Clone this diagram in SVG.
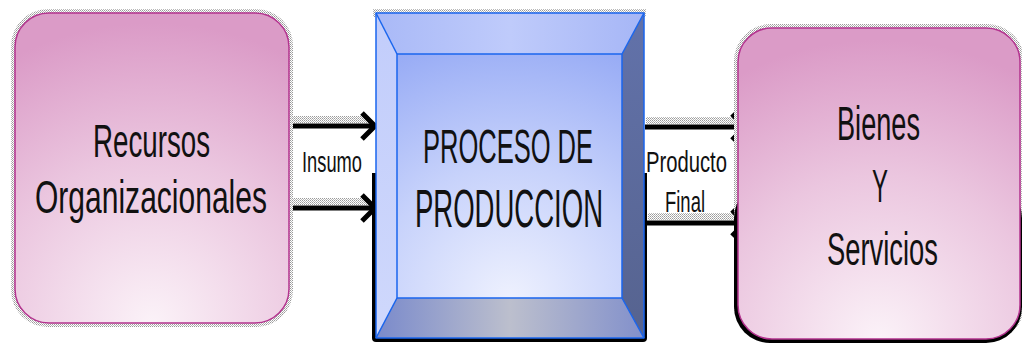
<svg xmlns="http://www.w3.org/2000/svg" width="1022" height="343" viewBox="0 0 1022 343">
<defs>
<style>
.lbl{font-family:"Liberation Sans",Arial,sans-serif;fill:#111;}
.conn{stroke:#000;stroke-width:5;fill:none;}
.head{stroke:#000;stroke-width:5;fill:none;stroke-linejoin:miter;}
.pink{stroke:#b4338f;stroke-width:1.5;}
.bev{stroke:#1a66ee;stroke-width:1.5;stroke-linejoin:round;}
</style>
<pattern id="dots" width="2" height="2" patternUnits="userSpaceOnUse">
<rect width="2" height="2" fill="#ffffff"/>
<rect width="1" height="1" fill="#9a9a9a"/>
<rect x="1" y="1" width="1" height="1" fill="#b8b8b8"/>
</pattern>
<radialGradient id="pinkL" gradientUnits="userSpaceOnUse" cx="152" cy="323" r="300" fx="152" fy="323">
<stop offset="0" stop-color="#fbf2f8"/>
<stop offset="0.55" stop-color="#ebc6df"/>
<stop offset="1" stop-color="#db9bc7"/>
</radialGradient>
<radialGradient id="pinkR" gradientUnits="userSpaceOnUse" cx="879" cy="340" r="300" fx="879" fy="340">
<stop offset="0" stop-color="#fbf2f8"/>
<stop offset="0.55" stop-color="#ebc6df"/>
<stop offset="1" stop-color="#db9bc7"/>
</radialGradient>
<radialGradient id="face" gradientUnits="userSpaceOnUse" cx="510" cy="300" r="270" fx="510" fy="300">
<stop offset="0" stop-color="#eef1fe"/>
<stop offset="0.5" stop-color="#c7d2fb"/>
<stop offset="1" stop-color="#97abf5"/>
</radialGradient>
<linearGradient id="topB" x1="0" y1="0" x2="1" y2="0">
<stop offset="0" stop-color="#a9b9f7"/>
<stop offset="0.5" stop-color="#bfcbfb"/>
<stop offset="1" stop-color="#a6b6f6"/>
</linearGradient>
<linearGradient id="botB" x1="0" y1="0" x2="1" y2="0">
<stop offset="0" stop-color="#7a8acb"/>
<stop offset="0.5" stop-color="#bcbfcd"/>
<stop offset="1" stop-color="#8290cb"/>
</linearGradient>
<linearGradient id="rightB" x1="0" y1="0" x2="0" y2="1">
<stop offset="0" stop-color="#6272aa"/>
<stop offset="1" stop-color="#56638f"/>
</linearGradient>
<linearGradient id="leftB" x1="0" y1="0" x2="0" y2="1">
<stop offset="0" stop-color="#c2cdfb"/>
<stop offset="1" stop-color="#cfd8fc"/>
</linearGradient>
</defs>

<g id="connectors">
<rect x="290" y="116" width="80" height="7" fill="url(#dots)"/>
<rect x="290" y="198" width="80" height="7" fill="url(#dots)"/>
<rect x="646" y="117" width="92" height="7" fill="url(#dots)"/>
<rect x="648" y="213" width="88" height="7" fill="url(#dots)"/>
<line class="conn" x1="290" y1="126" x2="372" y2="126"/>
<polyline class="head" points="362,113 375,126 362,139"/>
<line class="conn" x1="290" y1="208" x2="372" y2="208"/>
<polyline class="head" points="362,195 375,208 362,221"/>
<line class="conn" x1="645" y1="127" x2="742" y2="127"/>
<polyline class="head" points="732,114 745,127 732,140"/>
<line class="conn" x1="647" y1="223" x2="742" y2="223"/>
<polyline class="head" points="732,210 745,223 732,236"/>
<text class="lbl" x="302" y="172" font-size="29" textLength="60" lengthAdjust="spacingAndGlyphs">Insumo</text>
<text class="lbl" x="646" y="172" font-size="29" textLength="81" lengthAdjust="spacingAndGlyphs">Producto</text>
<text class="lbl" x="665" y="212" font-size="29" textLength="40" lengthAdjust="spacingAndGlyphs">Final</text>
</g>

<g id="recursos">
<rect x="11" y="9" width="282" height="318" rx="37" fill="url(#dots)"/>
<rect class="pink" x="15" y="13" width="274" height="310" rx="34" fill="url(#pinkL)"/>
<text class="lbl" x="93" y="157" font-size="47" textLength="117" lengthAdjust="spacingAndGlyphs">Recursos</text>
<text class="lbl" x="35" y="213" font-size="46" textLength="232" lengthAdjust="spacingAndGlyphs">Organizacionales</text>
</g>

<g id="proceso">
<rect x="373" y="9" width="273" height="8" fill="url(#dots)"/>
<path d="M372,173 H647 V338 Q647,342 643,342 H376 Q372,342 372,338 Z" fill="#000"/>
<polygon points="376,13 644,13 622,54 397,54" fill="url(#topB)"/>
<polygon points="376,13 397,54 397,298 376,338" fill="url(#leftB)"/>
<polygon points="644,13 644,338 622,298 622,54" fill="url(#rightB)"/>
<polygon points="376,338 397,298 622,298 644,338" fill="url(#botB)"/>
<rect x="397" y="54" width="225" height="244" fill="url(#face)"/>
<g class="bev" fill="none">
<rect x="376" y="13" width="268" height="325"/>
<rect x="397" y="54" width="225" height="244"/>
<line x1="376" y1="13" x2="397" y2="54"/>
<line x1="644" y1="13" x2="622" y2="54"/>
<line x1="376" y1="338" x2="397" y2="298"/>
<line x1="644" y1="338" x2="622" y2="298"/>
</g>
<text class="lbl" x="423" y="163" font-size="49" textLength="170" lengthAdjust="spacingAndGlyphs">PROCESO DE</text>
<text class="lbl" x="415" y="227" font-size="53" textLength="188" lengthAdjust="spacingAndGlyphs">PRODUCCION</text>
</g>

<g id="bienes">
<rect x="734" y="24" width="290" height="318" rx="37" fill="url(#dots)"/>
<rect x="734" y="182" width="288" height="161" rx="36" fill="#000"/>
<rect class="pink" x="738" y="28" width="282" height="311" rx="34" fill="url(#pinkR)"/>
<text class="lbl" x="837" y="140" font-size="49" textLength="83" lengthAdjust="spacingAndGlyphs">Bienes</text>
<text class="lbl" x="872" y="202" font-size="47" textLength="16" lengthAdjust="spacingAndGlyphs">Y</text>
<text class="lbl" x="827" y="265" font-size="46" textLength="111" lengthAdjust="spacingAndGlyphs">Servicios</text>
</g>
</svg>
